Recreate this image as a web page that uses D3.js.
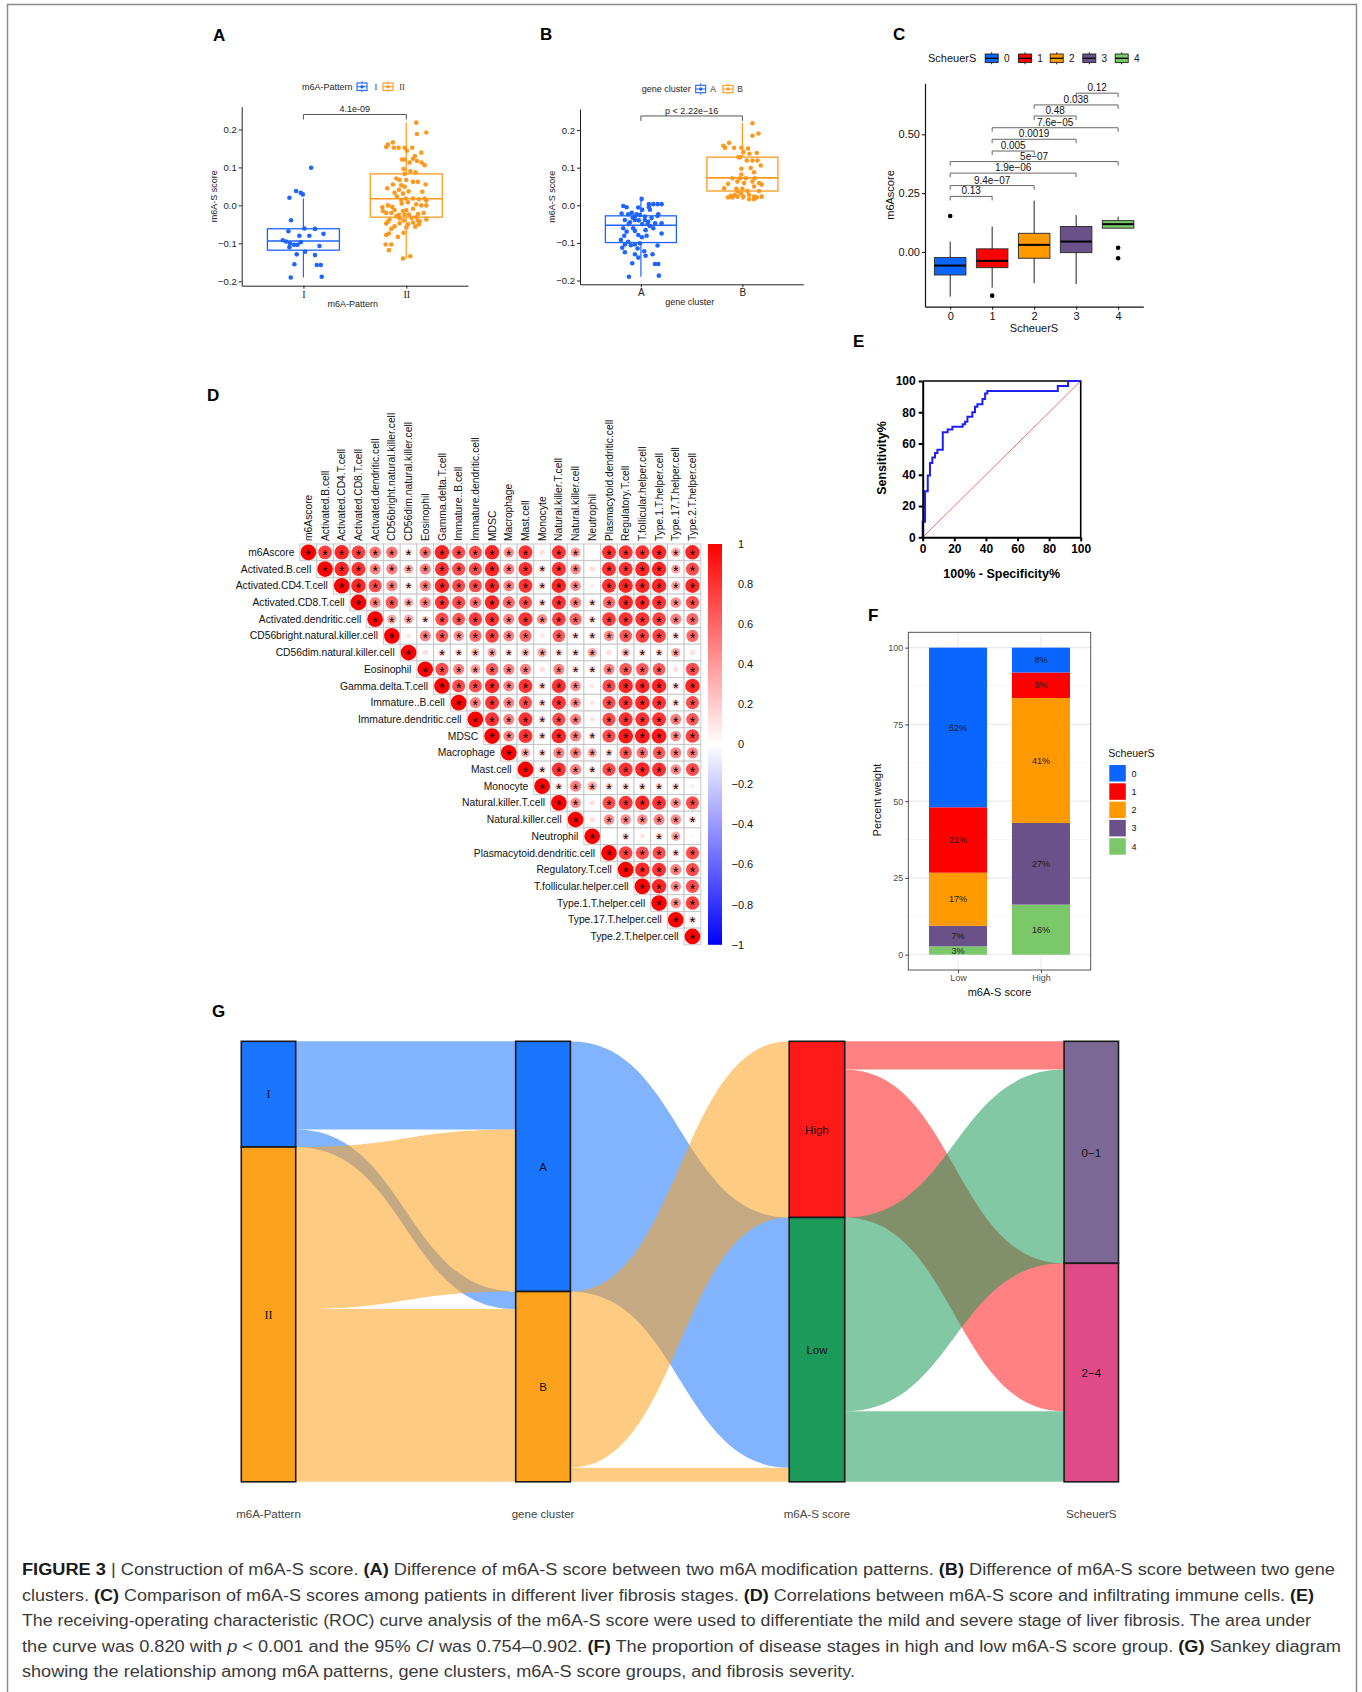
<!DOCTYPE html>
<html>
<head>
<meta charset="utf-8">
<script src="https://cdn.jsdelivr.net/npm/d3@7"></script>
<style>
body { margin: 0; background: #fff; }
svg { display: block; }
</style>
</head>
<body>
<svg id="fig" width="1362" height="1692"></svg>
<script>
// ---------- data ----------

// A: m6A-S score by m6A pattern  (box = [lowWhisker, q1, median, q3, highWhisker])
const patternCats = ['I', 'II']
const patternBox = [[-0.19, -0.118, -0.094, -0.0616, 0.018], [-0.14, -0.031, 0.0175, 0.083, 0.218]]
// points: [jitter offset (category units), score]
const patternPts = [
  [[0.075,0.099],[-0.071,0.038],[-0.026,0.033],[-0.006,0.029],[-0.136,0.020],[-0.120,-0.039],[0.010,-0.061],[0.113,-0.062],
   [-0.146,-0.068],[-0.039,-0.080],[0.058,-0.080],[0.195,-0.075],[-0.201,-0.092],[-0.169,-0.095],[-0.130,-0.100],[-0.058,-0.104],
   [-0.091,-0.104],[-0.026,-0.097],[0.156,-0.107],[-0.136,-0.110],[0.016,-0.122],[-0.065,-0.129],[0.113,-0.131],[-0.088,-0.155],
   [0.130,-0.157],[0.169,-0.157],[-0.123,-0.190],[0.178,-0.188]],
  [[0.097,0.218],[0.195,0.192],[0.104,0.188],[-0.130,0.166],[-0.178,0.160],[-0.195,0.154],[-0.120,0.152],[-0.075,0.152],
   [-0.016,0.152],[0.058,0.152],[0.006,0.144],[0.146,0.139],[-0.042,0.121],[-0.016,0.121],[0.065,0.123],[0.104,0.117],
   [0.149,0.113],[0.178,0.106],[0.032,0.113],[-0.026,0.096],[0.091,0.087],[-0.016,0.083],[-0.097,0.071],[-0.065,0.067],
   [0.000,0.067],[0.065,0.062],[0.113,0.062],[-0.130,0.055],[-0.049,0.053],[-0.016,0.049],[0.188,0.055],[-0.185,0.045],
   [-0.071,0.041],[0.023,0.037],[0.156,0.036],[-0.114,0.033],[-0.032,0.031],[-0.091,0.023],[-0.006,0.018],[0.065,0.018],
   [0.123,0.016],[0.178,0.018],[0.195,0.013],[-0.049,0.014],[0.016,0.008],[0.097,0.003],[0.146,0.000],[0.195,0.000],
   [-0.178,0.000],[-0.136,-0.004],[-0.233,-0.005],[0.065,-0.009],[-0.114,-0.012],[0.000,-0.013],[-0.032,-0.015],[-0.227,-0.015],
   [-0.146,-0.020],[-0.195,-0.020],[-0.071,-0.025],[0.114,-0.023],[0.169,-0.020],[-0.016,-0.025],[0.026,-0.024],[-0.065,-0.034],
   [0.097,-0.031],[-0.097,-0.029],[0.052,-0.033],[-0.162,-0.037],[0.195,-0.037],[-0.178,-0.043],[-0.026,-0.040],[0.113,-0.040],
   [0.130,-0.042],[-0.195,-0.048],[-0.065,-0.047],[0.016,-0.050],[-0.114,-0.055],[0.065,-0.045],[0.000,-0.058],[-0.146,-0.062],
   [-0.169,-0.074],[-0.026,-0.072],[-0.081,-0.083],[-0.195,-0.078],[-0.201,-0.103],[-0.146,-0.103],[-0.169,-0.118],[-0.032,-0.140],
   [0.039,-0.134],[0.123,-0.050],[0.087,-0.056],[-0.045,0.005],[0.040,0.090],[0.084,0.130]]
]
const patternP = '4.1e-09'

// B: m6A-S score by gene cluster
const clusterCats = ['A', 'B']
const clusterBox = [[-0.19, -0.099, -0.053, -0.028, 0.017], [0.014, 0.038, 0.073, 0.128, 0.218]]
const clusterPts = [
  [[0.007,0.017],[-0.174,-0.002],[-0.141,-0.005],[-0.026,-0.006],[0.079,-0.005],[0.013,-0.012],[0.089,-0.012],[0.164,0.003],
   [0.079,0.003],[0.122,0.003],[0.204,0.003],[-0.190,-0.022],[-0.125,-0.024],[-0.059,-0.030],[-0.043,-0.024],[-0.010,-0.026],
   [0.039,-0.030],[-0.082,-0.033],[0.171,-0.024],[0.164,-0.028],[-0.158,-0.039],[-0.059,-0.039],[-0.108,-0.045],[0.039,-0.039],
   [0.072,-0.044],[0.105,-0.034],[0.013,-0.050],[0.066,-0.050],[0.204,-0.048],[0.089,-0.055],[0.122,-0.061],[-0.076,-0.061],
   [-0.174,-0.061],[-0.141,-0.070],[-0.059,-0.068],[0.046,-0.066],[-0.026,-0.079],[-0.164,-0.081],[0.204,-0.075],[0.056,-0.081],
   [-0.197,-0.092],[-0.125,-0.097],[-0.059,-0.104],[-0.010,-0.101],[-0.158,-0.104],[-0.099,-0.106],[-0.184,-0.113],[0.164,-0.107],
   [-0.033,-0.115],[-0.158,-0.125],[0.033,-0.122],[-0.059,-0.130],[0.046,-0.134],[0.115,-0.130],[-0.026,-0.139],[-0.085,-0.154],
   [0.138,-0.156],[0.171,-0.156],[-0.118,-0.190],[0.177,-0.187],[-0.020,-0.040],[0.140,-0.048],[-0.120,-0.050],[0.010,-0.085],
   [-0.090,-0.020]],
  [[0.099,0.218],[0.158,0.191],[0.099,0.185],[-0.131,0.166],[-0.187,0.158],[-0.171,0.153],[-0.082,0.153],[-0.010,0.153],
   [0.056,0.151],[0.010,0.142],[0.069,0.137],[0.141,0.139],[-0.039,0.128],[-0.023,0.128],[0.043,0.119],[0.099,0.119],
   [0.148,0.119],[0.181,0.106],[0.082,0.099],[-0.010,0.097],[0.115,0.088],[-0.010,0.082],[-0.099,0.072],[-0.023,0.072],
   [0.033,0.072],[0.122,0.072],[-0.049,0.063],[0.099,0.063],[0.016,0.059],[0.164,0.059],[-0.141,0.057],[0.115,0.050],
   [-0.181,0.045],[-0.059,0.044],[0.000,0.044],[0.190,0.055],[-0.049,0.038],[0.049,0.038],[0.164,0.038],[-0.016,0.032],
   [-0.076,0.028],[0.066,0.028],[-0.115,0.025],[-0.049,0.023],[0.010,0.023],[-0.141,0.021],[-0.099,0.021],[0.115,0.023],
   [0.141,0.021],[0.190,0.023],[0.066,0.016],[0.115,0.016]]
]
const clusterP = 'p < 2.22e\u221216'

// C: m6Ascore by ScheuerS stage
const stageCats = ['0', '1', '2', '3', '4']
const stageBox = [[-0.19, -0.098, -0.058, -0.024, 0.044], [-0.152, -0.067, -0.038, 0.013, 0.108],
  [-0.133, -0.027, 0.03, 0.079, 0.218], [-0.137, -0.003, 0.044, 0.108, 0.157], [0.101, 0.101, 0.118, 0.133, 0.15]]
const stageOutliers = [[0.153], [-0.186], [], [], [0.018, -0.027]]
const stagePairs = [[3, 4], [2, 4], [2, 3], [1, 4], [1, 3], [1, 2], [0, 4], [0, 3], [0, 2], [0, 1]]
const stagePLabels = ['0.12', '0.038', '0.48', '7.6e\u221205', '0.0019', '0.005', '5e\u221207', '1.9e\u221206', '9.4e\u221207', '0.13']
const stagePLevels = [0.675, 0.625, 0.578, 0.528, 0.479, 0.429, 0.384, 0.335, 0.282, 0.236]

// D: correlation matrix, upper triangle, each row starts at its diagonal
const cellNames = ['m6Ascore', 'Activated.B.cell', 'Activated.CD4.T.cell', 'Activated.CD8.T.cell', 'Activated.dendritic.cell',
  'CD56bright.natural.killer.cell', 'CD56dim.natural.killer.cell', 'Eosinophil', 'Gamma.delta.T.cell', 'Immature..B.cell',
  'Immature.dendritic.cell', 'MDSC', 'Macrophage', 'Mast.cell', 'Monocyte', 'Natural.killer.T.cell', 'Natural.killer.cell',
  'Neutrophil', 'Plasmacytoid.dendritic.cell', 'Regulatory.T.cell', 'T.follicular.helper.cell', 'Type.1.T.helper.cell',
  'Type.17.T.helper.cell', 'Type.2.T.helper.cell']
const corrRows = [
  [1, .75, .85, .75, .55, .55, .2, .55, .85, .7, .7, .85, .45, .8, .12, .8, .4, .03, .8, .8, .8, .85, .35, .85],
  [1, .85, .8, .5, .5, .35, .5, .8, .7, .7, .85, .5, .8, .2, .8, .45, .12, .8, .8, .85, .85, .35, .7],
  [1, .85, .7, .5, .2, .5, .85, .7, .7, .85, .5, .8, .2, .85, .45, .08, .8, .85, .85, .85, .35, .85],
  [1, .5, .65, .35, .5, .8, .7, .55, .85, .6, .7, .2, .8, .5, .2, .6, .85, .85, .8, .45, .7],
  [1, .35, .35, .2, .7, .65, .75, .8, .5, .8, .45, .75, .6, .2, .75, .8, .8, .75, .5, .6],
  [1, .1, .5, .65, .45, .6, .75, .5, .6, .1, .65, .2, .2, .45, .65, .75, .75, .2, .6],
  [1, .12, .2, .2, .3, .35, .2, .3, .35, .2, .2, .35, .12, .3, .2, .2, .35, .12],
  [1, .7, .5, .4, .65, .5, .5, .12, .5, .2, .2, .5, .65, .65, .65, .12, .7],
  [1, .7, .7, .85, .5, .8, .2, .8, .45, .1, .7, .85, .85, .85, .2, .85],
  [1, .5, .8, .5, .7, .2, .8, .45, .1, .7, .8, .85, .8, .2, .7],
  [1, .8, .5, .8, .2, .7, .5, .1, .7, .8, .8, .8, .5, .65],
  [1, .5, .8, .2, .85, .5, .2, .7, .9, .9, .9, .45, .75],
  [1, .35, .2, .5, .5, .35, .2, .65, .55, .65, .5, .5],
  [1, .2, .8, .5, .2, .7, .8, .85, .8, .45, .7],
  [1, .2, .5, .35, .2, .2, .2, .2, .2, .08],
  [1, .45, .12, .7, .8, .85, .8, .45, .7],
  [1, .12, .45, .45, .45, .5, .45, .2],
  [1, .03, .2, .1, .2, .35, .03],
  [1, .75, .7, .7, .2, .7],
  [1, .85, .8, .5, .7],
  [1, .85, .45, .7],
  [1, .45, .75],
  [1, .2],
  [1]
]
const corrTicks = [1, 0.8, 0.6, 0.4, 0.2, 0, -0.2, -0.4, -0.6, -0.8, -1]

// E: ROC curve (100% - specificity, sensitivity)
const rocFpr = [0, 0, 1.5, 1.5, 3.2, 3.2, 4.6, 4.6, 6.1, 6.1, 7.8, 7.8, 9.3, 9.3, 12.7, 12.7, 15.8, 15.8, 18.8, 18.8,
  25.3, 25.3, 26.8, 26.8, 28.3, 28.3, 31.4, 31.4, 33.1, 33.1, 34.6, 34.6, 37.8, 37.8, 39.5, 39.5, 40.9, 40.9, 85.5, 85.5, 92, 92, 100]
const rocTpr = [0, 10, 10, 29.5, 29.5, 39.5, 39.5, 47.5, 47.5, 51, 51, 54, 54, 56, 56, 67.2, 67.2, 69, 69, 70.7,
  70.7, 72.4, 72.4, 74, 74, 77.2, 77.2, 80, 80, 83.6, 83.6, 85.2, 85.2, 88.5, 88.5, 92, 92, 93.6, 93.6, 96.8, 96.8, 100, 100]
const rocTicks = [0, 20, 40, 60, 80, 100]

// F: stage proportions (%) in each m6A-S score group, stages 0..4
const scoreGroups = ['Low', 'High']
const stagePctLow = [52.0, 21.3, 17.3, 6.7, 2.7]
const stagePctHigh = [8.1, 8.3, 40.7, 26.6, 16.3]
const pctTicks = [0, 25, 50, 75, 100]

// G: sankey flows (patients)
const axisNames = ['m6A-Pattern', 'gene cluster', 'm6A-S score', 'ScheuerS']
const patternNodes = ['I', 'II']
const clusterNodes = ['A', 'B']
const scoreNodes = ['High', 'Low']
const fibrosisNodes = ['0\u22121', '2\u22124']
const flowPatternCluster = [['I', 'A', 25], ['I', 'B', 5], ['II', 'A', 46], ['II', 'B', 49]]
const flowClusterScore = [['A', 'High', 0], ['A', 'Low', 71], ['B', 'High', 50], ['B', 'Low', 4]]
const flowScoreFibrosis = [['High', '0\u22121', 8], ['High', '2\u22124', 42], ['Low', '0\u22121', 55], ['Low', '2\u22124', 20]]

// ---------- drawing ----------
const FONT = '"Liberation Sans", Arial, Helvetica, sans-serif'
const SERIF = '"Liberation Serif", "Times New Roman", serif'
const BLUE = '#1E64FF', ORANGE = '#FF981E'
const stageColors = ['#0A66FF', '#FF0000', '#FF9900', '#6B5189', '#7BC86A']

const svg = d3.select('#fig').attr('font-family', FONT)
svg.append('rect').attr('width', 1362).attr('height', 1692).attr('fill', '#fff')
svg.append('path').attr('d', 'M7.5,1700 V4.5 H1356.5 V1700').attr('fill', 'none')
  .attr('stroke', '#8a8a8a').attr('stroke-width', 1.5)

function txt(g, x, y, s, size, opts) {
  opts = opts || {}
  const t = g.append('text').attr('x', x).attr('y', y).text(s).attr('font-size', size)
    .attr('text-anchor', opts.anchor || 'middle').attr('fill', opts.fill || '#000')
  if (opts.weight) t.attr('font-weight', opts.weight)
  if (opts.family) t.attr('font-family', opts.family)
  if (opts.rotate) t.attr('transform', `rotate(-90,${x},${y})`)
  return t
}

function styleAxis(a, size, color, weight, family) {
  a.attr('font-size', size).attr('font-family', family || FONT)
  a.selectAll('text').attr('fill', color).attr('font-weight', weight || 'normal')
}

const letters = [['A', 213, 41], ['B', 540, 40], ['C', 893, 40], ['D', 207, 401], ['E', 853, 347], ['F', 868, 621], ['G', 212, 1017]]
letters.forEach(l => txt(svg, l[1], l[2], l[0], 17, { anchor: 'start', weight: 'bold' }))

// ----- A and B: box + jitter -----
function groupPanel(o) {
  const g = svg.append('g')
  const x = d3.scaleLinear().domain([0.4, 2.6]).range([o.x0, o.x1])
  const y = d3.scaleLinear().domain(o.ydom).range([o.y1, o.y0])
  o.box.forEach((s, k) => {
    const cx = x(k + 1), hw = x(k + 1.35) - cx, c = o.colors[k]
    g.append('line').attr('x1', cx).attr('x2', cx).attr('y1', y(s[4])).attr('y2', y(s[3])).attr('stroke', c).attr('stroke-width', 1.2)
    g.append('line').attr('x1', cx).attr('x2', cx).attr('y1', y(s[1])).attr('y2', y(s[0])).attr('stroke', c).attr('stroke-width', 1.2)
    g.append('rect').attr('x', cx - hw).attr('y', y(s[3])).attr('width', 2 * hw).attr('height', y(s[1]) - y(s[3]))
      .attr('fill', 'none').attr('stroke', c).attr('stroke-width', 1.3)
    g.append('line').attr('x1', cx - hw).attr('x2', cx + hw).attr('y1', y(s[2])).attr('y2', y(s[2])).attr('stroke', c).attr('stroke-width', 1.6)
  })
  o.pts.forEach((pts, k) => {
    g.selectAll(null).data(pts).enter().append('circle')
      .attr('cx', d => x(k + 1 + d[0])).attr('cy', d => y(d[1])).attr('r', 2.3).attr('fill', o.colors[k])
  })
  const ax = g.append('g').attr('transform', `translate(0,${o.y1})`).attr('color', '#222')
    .call(d3.axisBottom(x).tickValues([1, 2]).tickFormat(d => o.cats[d - 1]).tickSize(3).tickSizeOuter(0).tickPadding(2))
  styleAxis(ax, 10, '#222', 'normal', o.catFamily)
  const ay = g.append('g').attr('transform', `translate(${o.x0},0)`).attr('color', '#222')
    .call(d3.axisLeft(y).tickValues([-0.2, -0.1, 0, 0.1, 0.2]).tickFormat(d3.format('.1f')).tickSize(3).tickSizeOuter(0).tickPadding(2))
  styleAxis(ay, 9.5, '#222')
  // bracket
  const by = y(o.brY)
  g.append('path').attr('d', `M${x(1)},${by + 5}V${by}H${x(2)}V${by + 5}`).attr('fill', 'none').attr('stroke', '#555').attr('stroke-width', 1)
  txt(g, (x(1) + x(2)) / 2, by - 2, o.p, 9, { fill: '#222' })
  // titles
  txt(g, o.yTitleX, (o.y0 + o.y1) / 2, 'm6A-S score', 9, { rotate: true, fill: '#222' })
  txt(g, (o.x0 + o.x1) / 2 - 2, o.y1 + 21, o.title, 9, { fill: '#222' })
  // legend
  const lg = g.append('g')
  txt(lg, o.leg[0], o.leg[1] + 3.2, o.title, 9, { anchor: 'start', fill: '#222' })
  o.cats.forEach((c, k) => {
    const cx = o.leg[2 + 2 * k], cy = o.leg[1], col = o.colors[k]
    lg.append('line').attr('x1', cx).attr('x2', cx).attr('y1', cy - 5.5).attr('y2', cy + 5.5).attr('stroke', col)
    lg.append('rect').attr('x', cx - 5).attr('y', cy - 3.7).attr('width', 10).attr('height', 7.4).attr('fill', '#fff').attr('stroke', col).attr('stroke-width', 1.1)
    lg.append('line').attr('x1', cx - 5).attr('x2', cx + 5).attr('y1', cy).attr('y2', cy).attr('stroke', col)
    lg.append('circle').attr('cx', cx).attr('cy', cy).attr('r', 1.7).attr('fill', col)
    txt(lg, o.leg[3 + 2 * k], cy + 3.2, c, 8.5, { fill: '#333', family: o.catFamily })
  })
}

groupPanel({ x0: 241.7, x1: 468, y0: 106.7, y1: 285.7, ydom: [-0.2116, 0.26], cats: patternCats, box: patternBox,
  pts: patternPts, colors: [BLUE, ORANGE], brY: 0.2395, p: patternP, yTitleX: 217, title: 'm6A-Pattern',
  catFamily: SERIF, leg: [302, 86.7, 362, 376, 388, 402] })
groupPanel({ x0: 580, x1: 803.3, y0: 109, y1: 284.3, ydom: [-0.21, 0.256], cats: clusterCats, box: clusterBox,
  pts: clusterPts, colors: [BLUE, ORANGE], brY: 0.2375, p: clusterP, yTitleX: 555, title: 'gene cluster',
  catFamily: FONT, leg: [641.7, 89, 700.7, 713, 728, 740] })

// ----- C: stage boxplots -----
;(function () {
  const g = svg.append('g')
  const x0 = 925, x1 = 1143.3, y0 = 83.3, y1 = 306.7
  const x = d3.scaleLinear().domain([-0.6, 4.6]).range([x0, x1])
  const y = d3.scaleLinear().domain([-0.233, 0.717]).range([y1, y0])
  stagePairs.forEach((p, i) => {
    const by = y(stagePLevels[i])
    g.append('path').attr('d', `M${x(p[0])},${by + 4}V${by}H${x(p[1])}V${by + 4}`).attr('fill', 'none').attr('stroke', '#666').attr('stroke-width', 1)
    txt(g, (x(p[0]) + x(p[1])) / 2, by - 2, stagePLabels[i], 10, { fill: '#111' })
  })
  stageBox.forEach((s, k) => {
    const cx = x(k), hw = x(k + 0.375) - cx
    g.append('line').attr('x1', cx).attr('x2', cx).attr('y1', y(s[4])).attr('y2', y(s[0])).attr('stroke', '#222').attr('stroke-width', 1)
    g.append('rect').attr('x', cx - hw).attr('y', y(s[3])).attr('width', 2 * hw).attr('height', y(s[1]) - y(s[3]))
      .attr('fill', stageColors[k]).attr('stroke', '#333').attr('stroke-width', 1)
    g.append('line').attr('x1', cx - hw).attr('x2', cx + hw).attr('y1', y(s[2])).attr('y2', y(s[2])).attr('stroke', '#000').attr('stroke-width', 2)
    stageOutliers[k].forEach(v => g.append('circle').attr('cx', cx).attr('cy', y(v)).attr('r', 2.3).attr('fill', '#000'))
  })
  const ax = g.append('g').attr('transform', `translate(0,${y1})`).attr('color', '#111')
    .call(d3.axisBottom(x).tickValues([0, 1, 2, 3, 4]).tickFormat(d => stageCats[d]).tickSize(3).tickSizeOuter(0).tickPadding(3))
  styleAxis(ax, 11, '#111')
  ax.select('.domain').attr('stroke-width', 1.2)
  const ay = g.append('g').attr('transform', `translate(${x0},0)`).attr('color', '#111')
    .call(d3.axisLeft(y).tickValues([0, 0.25, 0.5]).tickFormat(d3.format('.2f')).tickSize(3).tickSizeOuter(0).tickPadding(2))
  styleAxis(ay, 11, '#111')
  ay.select('.domain').attr('stroke-width', 1.2)
  txt(g, 894, 195, 'm6Ascore', 11, { rotate: true, fill: '#111' })
  txt(g, 1034, 332, 'ScheuerS', 11, { fill: '#111' })
  // legend
  txt(g, 928, 62.3, 'ScheuerS', 11, { anchor: 'start', fill: '#111' })
  const keyX = [991.7, 1025, 1056.7, 1089.3, 1121.7]
  stageCats.forEach((c, k) => {
    const cx = keyX[k], cy = 58.3
    g.append('line').attr('x1', cx).attr('x2', cx).attr('y1', cy - 6).attr('y2', cy + 6).attr('stroke', '#222')
    g.append('rect').attr('x', cx - 6.5).attr('y', cy - 4.3).attr('width', 13).attr('height', 8.6).attr('fill', stageColors[k]).attr('stroke', '#222').attr('stroke-width', 0.9)
    g.append('line').attr('x1', cx - 6.5).attr('x2', cx + 6.5).attr('y1', cy).attr('y2', cy).attr('stroke', '#000').attr('stroke-width', 1.3)
    txt(g, cx + 15, cy + 3.6, c, 10, { fill: '#111' })
  })
})()

// ----- D: correlation matrix -----
;(function () {
  const g = svg.append('g')
  const cell = 16.7, gx = 300, gy = 544, n = cellNames.length
  const bx = d3.scaleBand().domain(cellNames).range([gx, gx + cell * n])
  const by = d3.scaleBand().domain(cellNames).range([gy, gy + cell * n])
  const col = d3.scaleLinear().domain([-1, 0, 1]).range(['#0000FF', '#FFFFFF', '#FF0000'])
  const cells = []
  corrRows.forEach((row, i) => row.forEach((r, k) => cells.push({ i: i, j: i + k, r: r })))
  g.selectAll('rect.cell').data(cells).enter().append('rect').attr('class', 'cell')
    .attr('x', d => bx(cellNames[d.j])).attr('y', d => by(cellNames[d.i]))
    .attr('width', cell).attr('height', cell).attr('fill', '#fff').attr('stroke', '#c4c4c4').attr('stroke-width', 0.9)
  g.selectAll('circle').data(cells).enter().append('circle')
    .attr('cx', d => bx(cellNames[d.j]) + cell / 2).attr('cy', d => by(cellNames[d.i]) + cell / 2)
    .attr('r', d => 0.47 * cell * Math.sqrt(Math.abs(d.r))).attr('fill', d => col(d.r))
  g.selectAll('text.star').data(cells.filter(d => Math.abs(d.r) > 0.17)).enter().append('text').attr('class', 'star')
    .attr('x', d => bx(cellNames[d.j]) + cell / 2).attr('y', d => by(cellNames[d.i]) + cell / 2 + 7.4)
    .attr('text-anchor', 'middle').attr('font-size', 14).attr('fill', '#000').text('*')
  cellNames.forEach((nm, i) => {
    txt(g, bx(nm) - 5.5, by(nm) + cell / 2 + 3.6, nm, 10.3, { anchor: 'end', fill: '#111' })
    const cx = bx(nm) + cell / 2
    g.append('text').attr('transform', `translate(${cx + 3.6},${gy - 3}) rotate(-90)`)
      .attr('font-size', 10.3).attr('fill', '#111').text(nm)
  })
  // colour bar
  const defs = svg.append('defs')
  const lg = defs.append('linearGradient').attr('id', 'cbar').attr('x1', 0).attr('x2', 0).attr('y1', 0).attr('y2', 1)
  lg.append('stop').attr('offset', '0%').attr('stop-color', '#FF0000')
  lg.append('stop').attr('offset', '50%').attr('stop-color', '#FFFFFF')
  lg.append('stop').attr('offset', '100%').attr('stop-color', '#0000FF')
  const cy = d3.scaleLinear().domain([1, -1]).range([gy, gy + cell * n])
  g.append('rect').attr('x', 708).attr('y', gy).attr('width', 14).attr('height', cell * n).attr('fill', 'url(#cbar)')
  corrTicks.forEach(v => {
    const s = d3.format('')(v).replace('-', '\u2212')
    const parts = s.split('.')
    txt(g, 744, cy(v) + 3.8, parts[0], 11, { anchor: 'end', fill: '#111' })
    if (parts[1]) txt(g, 744, cy(v) + 3.8, '.' + parts[1], 11, { anchor: 'start', fill: '#111' })
  })
})()

// ----- E: ROC -----
;(function () {
  const g = svg.append('g')
  const x = d3.scaleLinear().domain([0, 100]).range([922.7, 1080.7])
  const y = d3.scaleLinear().domain([0, 100]).range([537.3, 381])
  g.append('line').attr('x1', x(0)).attr('y1', y(0)).attr('x2', x(100)).attr('y2', y(100)).attr('stroke', '#F26D6D').attr('stroke-width', 1)
  g.append('path').attr('d', `M${x(0)},${y(100)}H${x(100)}V${y(0)}`).attr('fill', 'none').attr('stroke', '#000').attr('stroke-width', 1.6)
  const line = d3.line().x(d => x(d[0])).y(d => y(d[1]))
  g.append('path').attr('d', line(rocFpr.map((f, i) => [f, rocTpr[i]]))).attr('fill', 'none')
    .attr('stroke', '#1F1FF5').attr('stroke-width', 2)
  const ax = g.append('g').attr('transform', `translate(0,${y(0)})`).attr('color', '#000')
    .call(d3.axisBottom(x).tickValues(rocTicks).tickSize(4).tickSizeOuter(0).tickPadding(3))
  styleAxis(ax, 12, '#000', 'bold')
  ax.selectAll('path,line').attr('stroke-width', 2)
  const ay = g.append('g').attr('transform', `translate(${x(0)},0)`).attr('color', '#000')
    .call(d3.axisLeft(y).tickValues(rocTicks).tickSize(4).tickSizeOuter(0).tickPadding(3))
  styleAxis(ay, 12, '#000', 'bold')
  ay.selectAll('path,line').attr('stroke-width', 2)
  txt(g, 886, 458, 'Sensitivity%', 12.5, { rotate: true, weight: 'bold' })
  txt(g, 1001.7, 578, '100% - Specificity%', 12.5, { weight: 'bold' })
})()

// ----- F: stacked percentage bars -----
;(function () {
  const g = svg.append('g')
  const x0 = 908.3, x1 = 1090.7, y0 = 632.3, y1 = 970
  const x = d3.scaleLinear().domain([0.4, 2.6]).range([x0, x1])
  const y = d3.scaleLinear().domain([-5, 105]).range([y1, y0])
  ;[12.5, 37.5, 62.5, 87.5].forEach(v => g.append('line').attr('x1', x0).attr('x2', x1).attr('y1', y(v)).attr('y2', y(v)).attr('stroke', '#F0F0F0').attr('stroke-width', 0.6))
  pctTicks.forEach(v => g.append('line').attr('x1', x0).attr('x2', x1).attr('y1', y(v)).attr('y2', y(v)).attr('stroke', '#EBEBEB').attr('stroke-width', 1.1))
  ;[1, 2].forEach(v => g.append('line').attr('x1', x(v)).attr('x2', x(v)).attr('y1', y0).attr('y2', y1).attr('stroke', '#EBEBEB').attr('stroke-width', 1.1))
  ;[stagePctLow, stagePctHigh].forEach((pcts, k) => {
    const cx = x(k + 1), hw = x(k + 1.35) - cx
    let base = 0
    for (let s = pcts.length - 1; s >= 0; s--) {
      const top = base + pcts[s]
      g.append('rect').attr('x', cx - hw).attr('y', y(top)).attr('width', 2 * hw).attr('height', y(base) - y(top)).attr('fill', stageColors[s])
      txt(g, cx, y((base + top) / 2) + 3.2, Math.round(pcts[s]) + '%', 9, { fill: '#1a1a1a' })
      base = top
    }
  })
  g.append('rect').attr('x', x0).attr('y', y0).attr('width', x1 - x0).attr('height', y1 - y0).attr('fill', 'none').attr('stroke', '#444').attr('stroke-width', 0.9)
  const ay = g.append('g').attr('transform', `translate(${x0},0)`).attr('color', '#444')
    .call(d3.axisLeft(y).tickValues(pctTicks).tickSize(3).tickSizeOuter(0).tickPadding(2))
  styleAxis(ay, 9, '#4D4D4D')
  ay.select('.domain').remove()
  const ax = g.append('g').attr('transform', `translate(0,${y1})`).attr('color', '#444')
    .call(d3.axisBottom(x).tickValues([1, 2]).tickFormat(d => scoreGroups[d - 1]).tickSize(3).tickSizeOuter(0).tickPadding(2))
  styleAxis(ax, 9, '#4D4D4D')
  ax.select('.domain').remove()
  txt(g, 881, 800, 'Percent weight', 11, { rotate: true, fill: '#111' })
  txt(g, (x0 + x1) / 2, 996, 'm6A-S score', 11, { fill: '#111' })
  txt(g, 1108.3, 757, 'ScheuerS', 10.5, { anchor: 'start', fill: '#111' })
  stageCats.forEach((c, k) => {
    const ky = 765 + k * 18.3
    g.append('rect').attr('x', 1109.3).attr('y', ky).attr('width', 16.5).attr('height', 16.5).attr('fill', stageColors[k])
    txt(g, 1131.5, ky + 11.5, c, 9, { anchor: 'start', fill: '#111' })
  })
})()

// ----- G: sankey -----
;(function () {
  const g = svg.append('g')
  const total = d3.sum(flowPatternCluster, d => d[2])
  const y = d3.scaleLinear().domain([0, total]).range([1041.3, 1481.8])
  const cols = [
    { nodes: patternNodes, x: 241.3, w: 54.4, colors: ['#1A75FF', '#FBA11C'], family: SERIF },
    { nodes: clusterNodes, x: 515.7, w: 54.7, colors: ['#1A75FF', '#FBA11C'], family: FONT },
    { nodes: scoreNodes, x: 789.2, w: 55.5, colors: ['#FF1A1A', '#1B9A5A'], family: FONT },
    { nodes: fibrosisNodes, x: 1064.1, w: 54.4, colors: ['#7B6894', '#E04A87'], family: FONT }
  ]
  const links = [flowPatternCluster, flowClusterScore, flowScoreFibrosis]
  // node sizes from flows
  cols.forEach((c, ci) => {
    c.size = c.nodes.map(nm => ci < 3 ? d3.sum(links[ci].filter(f => f[0] === nm), f => f[2]) : d3.sum(links[2].filter(f => f[1] === nm), f => f[2]))
    let acc = 0
    c.start = c.size.map(s => { const a = acc; acc += s; return a })
  })
  links.forEach((fl, li) => {
    const src = cols[li], tgt = cols[li + 1]
    const outOff = src.nodes.map(() => 0), inOff = tgt.nodes.map(() => 0)
    const bands = []
    src.nodes.forEach((sn, si) => tgt.nodes.forEach((tn, ti) => {
      const f = fl.find(d => d[0] === sn && d[1] === tn)
      bands.push({ si: si, ti: ti, v: f ? f[2] : 0 })
    }))
    // source offsets follow target order; target offsets follow source order
    bands.forEach(b => { b.s0 = src.start[b.si] + outOff[b.si]; outOff[b.si] += b.v })
    tgt.nodes.forEach((tn, ti) => bands.filter(b => b.ti === ti).forEach(b => { b.t0 = tgt.start[ti] + inOff[ti]; inOff[ti] += b.v }))
    const xa = src.x + src.w, xb = tgt.x, xm = (xa + xb) / 2
    bands.filter(b => b.v > 0).forEach(b => {
      const a0 = y(b.s0), a1 = y(b.s0 + b.v), c0 = y(b.t0), c1 = y(b.t0 + b.v)
      g.append('path')
        .attr('d', `M${xa},${a0}C${xm},${a0} ${xm},${c0} ${xb},${c0}L${xb},${c1}C${xm},${c1} ${xm},${a1} ${xa},${a1}Z`)
        .attr('fill', src.colors[b.si]).attr('fill-opacity', 0.55)
    })
  })
  cols.forEach((c, ci) => {
    c.nodes.forEach((nm, k) => {
      const top = y(c.start[k]), bot = y(c.start[k] + c.size[k])
      g.append('rect').attr('x', c.x).attr('y', top).attr('width', c.w).attr('height', bot - top)
        .attr('fill', c.colors[k]).attr('stroke', '#1a1a1a').attr('stroke-width', 1.6)
      txt(g, c.x + c.w / 2, (top + bot) / 2 + 4.2, nm, c.family === SERIF ? 12 : 11.5, { family: c.family, fill: '#111' })
    })
    txt(g, c.x + c.w / 2, 1517.5, axisNames[ci], 11.5, { fill: '#444' })
  })
})()

// ----- caption -----
const captionLines = [
  [['FIGURE 3', 'b'], [' | ', ''], ['Construction of m6A-S score. ', ''], ['(A)', 'b'], [' Difference of m6A-S score between two m6A modification patterns. ', ''], ['(B)', 'b'], [' Difference of m6A-S score between two gene', '']],
  [['clusters. ', ''], ['(C)', 'b'], [' Comparison of m6A-S scores among patients in different liver fibrosis stages. ', ''], ['(D)', 'b'], [' Correlations between m6A-S score and infiltrating immune cells. ', ''], ['(E)', 'b']],
  [['The receiving-operating characteristic (ROC) curve analysis of the m6A-S score were used to differentiate the mild and severe stage of liver fibrosis. The area under', '']],
  [['the curve was 0.820 with ', ''], ['p', 'i'], [' < 0.001 and the 95% ', ''], ['CI', 'i'], [' was 0.754\u20130.902. ', ''], ['(F)', 'b'], [' The proportion of disease stages in high and low m6A-S score group. ', ''], ['(G)', 'b'], [' Sankey diagram', '']],
  [['showing the relationship among m6A patterns, gene clusters, m6A-S score groups, and fibrosis severity.', '']]
]
const captionWidths = [1313, 1292, 1289, 1319, 833]
captionLines.forEach((segs, i) => {
  const t = svg.append('text').attr('x', 22).attr('y', 1575 + i * 25.6)
    .attr('font-family', '"Liberation Sans Narrow", "Liberation Sans", Arial, sans-serif')
    .attr('font-size', 16).attr('fill', '#3a3a3a')
    .attr('textLength', captionWidths[i]).attr('lengthAdjust', 'spacingAndGlyphs')
    .style('white-space', 'pre')
  segs.forEach(s => {
    const ts = t.append('tspan').text(s[0])
    if (s[1] === 'b') ts.attr('font-weight', 'bold').attr('fill', '#1a1a1a')
    if (s[1] === 'i') ts.attr('font-style', 'italic')
  })
})
</script>
</body>
</html>
